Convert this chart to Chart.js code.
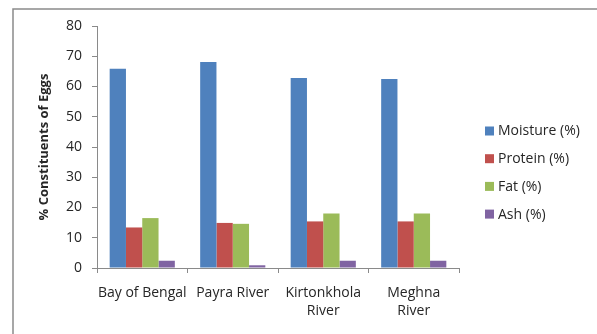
<!DOCTYPE html>
<html>
<head>
<meta charset="utf-8">
<script src="https://cdn.jsdelivr.net/npm/chart.js@4/dist/chart.umd.min.js"></script>
<style>
  html, body { margin: 0; padding: 0; background: #fff; }
  #wrap { position: relative; width: 597px; height: 334px; }
</style>
</head>
<body>
<div id="wrap"><canvas id="chart" width="597" height="334"></canvas></div>
<script>
const categories = [['Bay of Bengal'], ['Payra River'], ['Kirtonkhola', 'River'], ['Meghna', 'River']];
const seriesNames = ['Moisture (%)', 'Protein (%)', 'Fat (%)', 'Ash (%)'];
const moisture = [65.9, 68.1, 62.8, 62.5];
const protein = [13.4, 14.9, 15.4, 15.4];
const fat = [16.5, 14.6, 18.0, 18.0];
const ash = [2.4, 0.9, 2.4, 2.4];
const colors = ['#4F81BD', '#C0504D', '#9BBB59', '#8064A2'];

const FONT = "'Open Sans', 'Liberation Sans', sans-serif";
const textColor = '#262626';

// outer frame like the Excel chart area border
const framePlugin = {
  id: 'frame',
  beforeDraw(chart) {
    const ctx = chart.ctx;
    ctx.save();
    ctx.fillStyle = '#fff';
    ctx.fillRect(0, 0, chart.width, chart.height);
    ctx.strokeStyle = '#8a8a8a';
    ctx.lineWidth = 1.5;
    ctx.strokeRect(13, 9, 700, 400);
    ctx.restore();
  }
};

// legend on the right, drawn from the datasets
const sideLegend = {
  id: 'sideLegend',
  afterDraw(chart) {
    const ctx = chart.ctx;
    ctx.save();
    ctx.font = '14px ' + FONT;
    ctx.textBaseline = 'middle';
    chart.data.datasets.forEach((ds, i) => {
      const y = 131 + i * 27.7;
      ctx.fillStyle = ds.backgroundColor;
      ctx.fillRect(485, y - 4.5, 9, 9);
      ctx.fillStyle = textColor;
      ctx.fillText(ds.label, 498, y + 0.5);
    });
    ctx.restore();
  }
};

const datasets = [moisture, protein, fat, ash].map((data, i) => ({
  label: seriesNames[i],
  data,
  backgroundColor: colors[i],
  borderWidth: 0,
  categoryPercentage: 0.72,
  barPercentage: 1.0
}));

new Chart(document.getElementById('chart'), {
  type: 'bar',
  data: { labels: categories, datasets },
  options: {
    responsive: false,
    animation: false,
    layout: { padding: { left: 13, top: 26, right: 138, bottom: 0 } },
    plugins: {
      legend: { display: false },
      tooltip: { enabled: false }
    },
    scales: {
      x: {
        grid: { display: true, drawOnChartArea: false, drawTicks: true, tickLength: 5, offset: true, color: '#8a8a8a' },
        border: { display: true, color: '#8a8a8a', width: 1 },
        ticks: { color: textColor, font: { family: FONT, size: 14, lineHeight: 1.3 }, padding: 11, maxRotation: 0, autoSkip: false },
        afterFit(scale) { scale.height = 66; }
      },
      y: {
        min: 0,
        max: 80,
        ticks: { stepSize: 10, color: textColor, font: { family: FONT, size: 14 }, padding: 10 },
        grid: { display: true, drawOnChartArea: false, drawTicks: true, tickLength: 5, color: '#8a8a8a' },
        border: { display: true, color: '#8a8a8a', width: 1 },
        title: { display: true, text: '% Constituents of Eggs', color: textColor, font: { family: FONT, size: 13, weight: 'bold' }, padding: { top: 23, bottom: 0 } },
        afterFit(scale) { scale.width = 84; }
      }
    }
  },
  plugins: [framePlugin, sideLegend]
});
</script>
</body>
</html>
